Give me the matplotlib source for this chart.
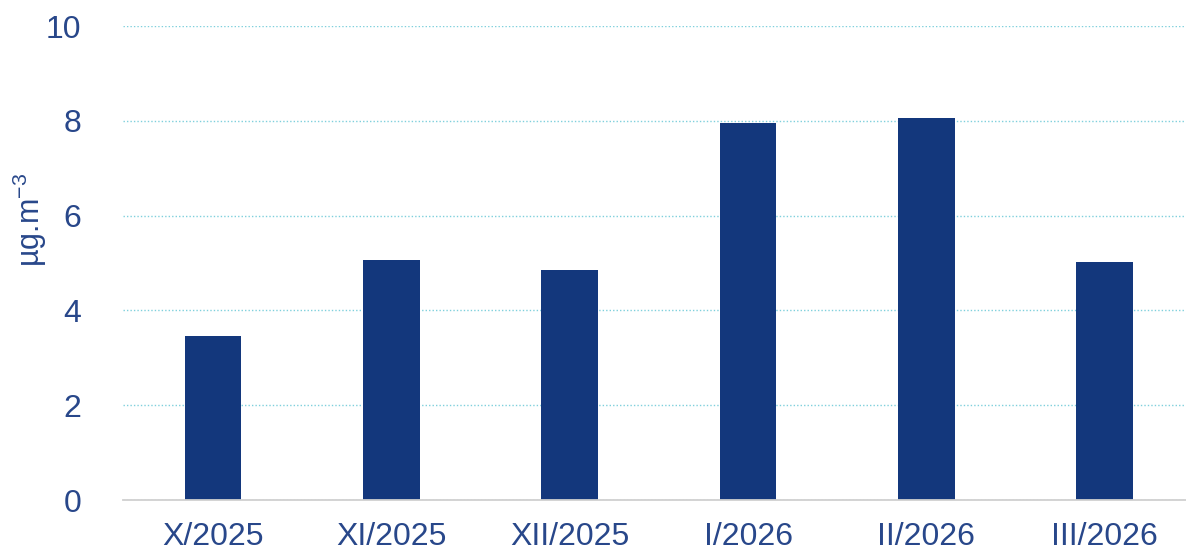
import matplotlib
matplotlib.use("Agg")
import matplotlib.pyplot as plt
import numpy as np

# data
months = ["X/2025", "XI/2025", "XII/2025", "I/2026", "II/2026", "III/2026"]
values = [3.47, 5.07, 4.86, 7.95, 8.06, 5.03]
yticks = [0, 2, 4, 6, 8, 10]

text_col = "#28478a"
bar_col = "#13377c"

plt.rcParams['font.family'] = ['Liberation Sans', 'DejaVu Sans']
plt.rcParams['mathtext.fontset'] = 'custom'
plt.rcParams['mathtext.rm'] = 'Liberation Sans'
plt.rcParams['mathtext.it'] = 'Liberation Sans'

fig = plt.figure(figsize=(11.86, 5.56), dpi=100)
# plot area: left 123px, bottom 500px, top 26px; right edge runs past the image
ax = fig.add_axes([123 / 1186, 56 / 556, 1070 / 1186, 474 / 556])

x = np.arange(len(months))
ax.bar(x, values, width=0.318, color=bar_col, zorder=3)

ax.set_xlim(-0.505, len(months) - 0.505)
ax.set_ylim(0, 10)
ax.set_yticks(yticks)
ax.set_xticks(x)
ax.set_xticklabels(months)

# dotted light cyan grid
ax.yaxis.grid(True, color="#7fd0dc", linestyle=(0, (1, 1.5)), linewidth=1.0, zorder=0)
for s in ["top", "right", "left"]:
    ax.spines[s].set_visible(False)
ax.spines["bottom"].set_color("#d0d0d0")
ax.spines["bottom"].set_linewidth(1.3)
ax.spines["bottom"].set_zorder(4)

ax.tick_params(axis="both", length=0, labelsize=23, colors=text_col)
ax.tick_params(axis="y", pad=30)
ax.tick_params(axis="x", pad=16)

ax.set_ylabel(r"µg.m$^{-3}$", fontsize=22, color=text_col)
ax.yaxis.set_label_coords(-74 / 1070, 0.59)

fig.savefig("out.png", dpi=100)
